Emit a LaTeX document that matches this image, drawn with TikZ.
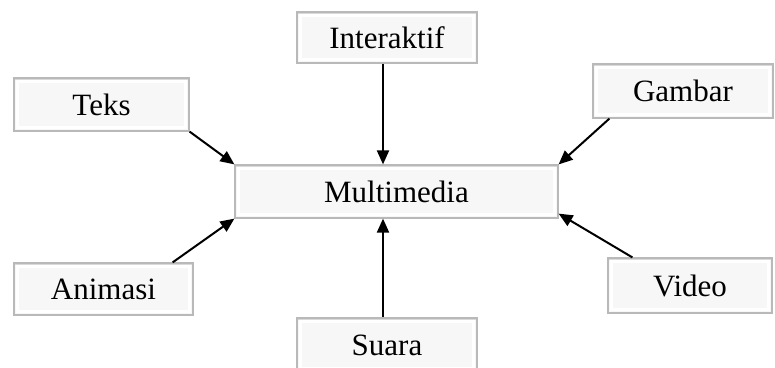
\documentclass[tikz,border=0pt]{standalone}
\usepackage{fontspec}
\setmainfont{Liberation Serif}
\usetikzlibrary{arrows.meta,calc}
\begin{document}
\begin{tikzpicture}[x=1pt,y=-1pt,
  boxst/.style={draw=gray!55, line width=1.2pt, fill=gray!6, inner sep=0pt,
    font=\fontsize{31}{34}\selectfont,
    path picture={
      \draw[white, line width=2.2pt]
        ([shift={(3.5pt,-3.5pt)}]path picture bounding box.north west)
        rectangle ([shift={(-3.5pt,3.5pt)}]path picture bounding box.south east);
      \draw[gray!30, line width=0.8pt]
        ([shift={(1pt,-1.2pt)}]path picture bounding box.north west) --
        ([shift={(-1pt,-1.2pt)}]path picture bounding box.north east);
    }},
  arr/.style={line width=2pt, -{Triangle[length=14pt,width=12pt]}}]
\useasboundingbox (0,0) rectangle (775,367);
\clip (0,0) rectangle (775,367);
\node[boxst, minimum width=175pt, minimum height=53pt] (teks) at (101.5,104.5) {Teks};
\node[boxst, minimum width=180pt, minimum height=51pt] (inter) at (387,37.5) {Interaktif};
\node[boxst, minimum width=180pt, minimum height=54pt] (gambar) at (683,91) {Gambar};
\node[boxst, minimum width=323pt, minimum height=53pt] (multi) at (396.5,191.5) {Multimedia};
\node[boxst, minimum width=179pt, minimum height=52pt] (anim) at (103.5,289) {Animasi};
\node[boxst, minimum width=164pt, minimum height=55pt] (video) at (690,285.5) {Video};
\node[boxst, minimum width=180pt, minimum height=54pt] (suara) at (387,345) {Suara};
\coordinate (ax) at (383,0);
\draw[arr] (teks.south east) -- (multi.north west);
\draw[arr] (inter.south -| ax) -- (multi.north -| ax);
\draw[arr] ($(gambar.south west)+(17,0)$) -- (multi.north east);
\draw[arr] ($(video.north west)+(25,0)$) -- ($(multi.south east)+(0,-5)$);
\draw[arr] ($(anim.north east)+(-21,0)$) -- (multi.south west);
\draw[arr] (suara.north -| ax) -- (multi.south -| ax);
\end{tikzpicture}
\end{document}
